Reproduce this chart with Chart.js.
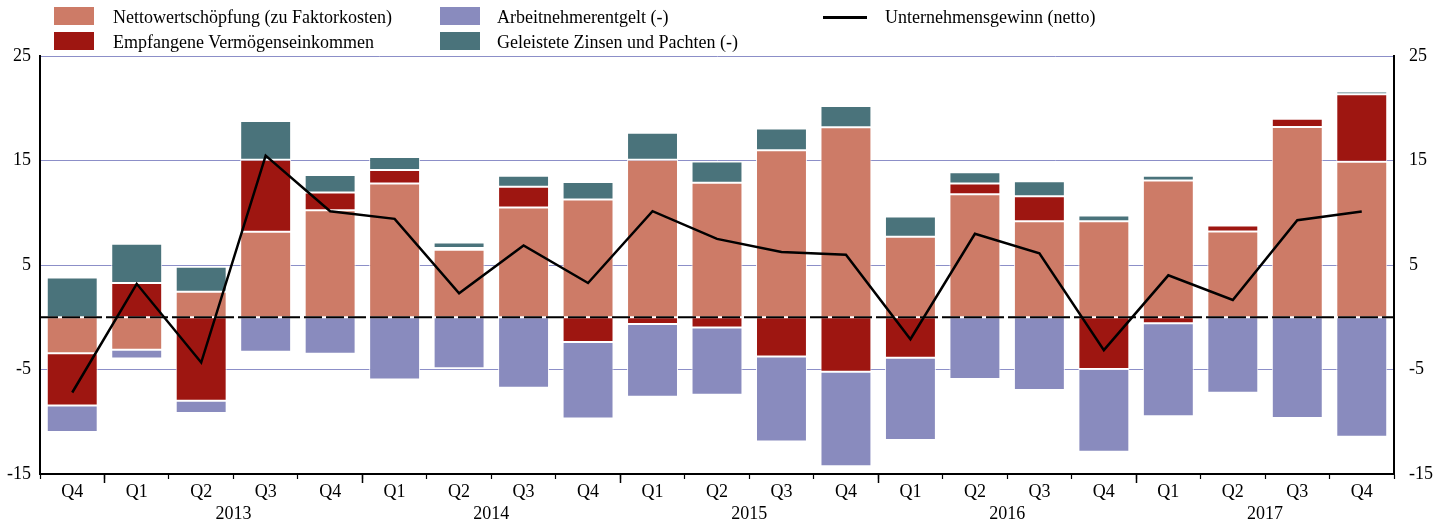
<!DOCTYPE html>
<html>
<head>
<meta charset="utf-8">
<script src="https://cdn.jsdelivr.net/npm/chart.js@4/dist/chart.umd.min.js"></script>
<style>
  html, body { margin: 0; padding: 0; background: #fff; }
  #wrap { position: relative; width: 1445px; height: 524px; font-family: "Liberation Serif", "Times New Roman", serif; }
  #wrap canvas { position: absolute; left: 0; top: 0; }
  .lg { position: absolute; font-size: 18px; color: #000; line-height: 20px; white-space: nowrap; }
  .sw { position: absolute; width: 40px; height: 18px; }
  .ln { position: absolute; width: 44px; height: 2.5px; background: #000; }
</style>
</head>
<body>
<div id="wrap">
  <canvas id="c" width="1445" height="524"></canvas>
  <div class="sw" style="left:54px;top:7px;background:#CD7B67"></div>
  <div class="lg" style="left:113px;top:7px">Nettowertschöpfung (zu Faktorkosten)</div>
  <div class="sw" style="left:54px;top:32px;background:#9E1611"></div>
  <div class="lg" style="left:113px;top:32px">Empfangene Vermögenseinkommen</div>
  <div class="sw" style="left:440px;top:7px;background:#898BBE"></div>
  <div class="lg" style="left:497px;top:7px">Arbeitnehmerentgelt (-)</div>
  <div class="sw" style="left:440px;top:32px;background:#4A737B"></div>
  <div class="lg" style="left:497px;top:32px">Geleistete Zinsen und Pachten (-)</div>
  <div class="ln" style="left:823px;top:16px"></div>
  <div class="lg" style="left:885px;top:7px">Unternehmensgewinn (netto)</div>
</div>
<script>
const quarters = ['Q4','Q1','Q2','Q3','Q4','Q1','Q2','Q3','Q4','Q1','Q2','Q3','Q4','Q1','Q2','Q3','Q4','Q1','Q2','Q3','Q4'];
const quarterYears = ['2012','2013','2013','2013','2013','2014','2014','2014','2014','2015','2015','2015','2015','2016','2016','2016','2016','2017','2017','2017','2017'];
const yearLabels = ['2013','2014','2015','2016','2017'];
const yTicks = [-15, -5, 5, 15, 25];

const nettowertschoepfung = [-3.44, -3.12, 2.45, 8.18, 10.25, 12.79, 6.46, 10.5, 11.26, 15.08, 12.86, 15.97, 18.17, 7.7, 11.77, 9.19, 9.19, 13.08, 8.21, 18.2, 14.89];
const vermoegenseinkommen = [-5.0, 3.28, -7.99, 6.9, 1.68, 1.31, 0.16, 2.0, -2.36, -0.64, -0.99, -3.75, -5.22, -3.88, 1.02, 2.39, -4.96, -0.57, 0.57, 0.8, 6.46];
const arbeitnehmerentgelt = [-2.55, -0.83, -1.18, -3.31, -3.5, -5.95, -4.87, -6.75, -7.34, -6.96, -6.42, -8.15, -9.04, -7.86, -5.92, -6.97, -7.9, -8.91, -7.22, -9.64, -11.43];
const zinsenPachten = [3.8, 3.75, 2.39, 3.7, 1.69, 1.24, 0.54, 1.03, 1.69, 2.58, 2.04, 2.1, 2.04, 1.94, 1.08, 1.43, 0.55, 0.45, null, -0.1, 0.25];
const unternehmensgewinn = [-7.2, 3.2, -4.33, 15.47, 10.15, 9.42, 2.29, 6.87, 3.28, 10.15, 7.5, 6.24, 5.98, -2.1, 7.99, 6.11, -3.15, 4.01, 1.65, 9.29, 10.12];

const FONT = { family: '"Liberation Serif", "Times New Roman", serif', size: 18 };

// year label centres from the quarter index positions
const yearCenters = yearLabels.map(y => {
  const idx = quarterYears.map((q, i) => q === y ? i : -1).filter(i => i >= 0);
  return { value: idx.reduce((a, b) => a + b, 0) / idx.length, label: y };
});

function barDs(label, data, color) {
  return {
    type: 'bar', label, data, backgroundColor: color,
    borderColor: 'rgba(255,255,255,0.9)', borderWidth: 1, borderSkipped: false,
    stack: 'comp', order: 1, categoryPercentage: 1, barPercentage: 0.79
  };
}

const zeroAndTicks = {
  id: 'zeroAndTicks',
  beforeDatasetDraw(chart, args) {
    if (args.index !== 4) return;
    const ctx = chart.ctx, ca = chart.chartArea, y = chart.scales.y.getPixelForValue(0);
    ctx.save();
    ctx.strokeStyle = '#000'; ctx.lineWidth = 2; ctx.setLineDash([18, 4]);
    ctx.beginPath(); ctx.moveTo(ca.left, y); ctx.lineTo(ca.right, y); ctx.stroke();
    ctx.restore();
  },
  afterDraw(chart) {
    const ctx = chart.ctx, xs = chart.scales.x, ca = chart.chartArea;
    ctx.save();
    ctx.strokeStyle = '#000'; ctx.lineWidth = 1.5;
    for (let i = 1; i < quarterYears.length; i++) {
      if (quarterYears[i] !== quarterYears[i - 1]) {
        const x = Math.round((xs.getPixelForValue(i - 1) + xs.getPixelForValue(i)) / 2) + 0.5;
        ctx.beginPath(); ctx.moveTo(x, ca.bottom + 1); ctx.lineTo(x, ca.bottom + 9); ctx.stroke();
      }
    }
    ctx.restore();
  }
};

new Chart(document.getElementById('c'), {
  data: {
    labels: quarters,
    datasets: [
      barDs('Nettowertschöpfung (zu Faktorkosten)', nettowertschoepfung, '#CD7B67'),
      barDs('Empfangene Vermögenseinkommen', vermoegenseinkommen, '#9E1611'),
      barDs('Arbeitnehmerentgelt (-)', arbeitnehmerentgelt, '#898BBE'),
      barDs('Geleistete Zinsen und Pachten (-)', zinsenPachten, '#4A737B'),
      {
        type: 'line', label: 'Unternehmensgewinn (netto)', data: unternehmensgewinn,
        borderColor: '#000', borderWidth: 2.5, pointRadius: 0, tension: 0,
        fill: false, stack: 'profit', order: 0, borderJoinStyle: 'miter'
      }
    ]
  },
  options: {
    responsive: false,
    animation: false,
    devicePixelRatio: 1,
    layout: { padding: { top: 56, left: 0, right: 0, bottom: 0 } },
    plugins: { legend: { display: false }, tooltip: { enabled: false } },
    scales: {
      x: {
        type: 'category', position: 'bottom', offset: true, stacked: true,
        grid: { offset: true, drawOnChartArea: false, tickLength: 5, tickColor: '#000', tickWidth: 1.2 },
        border: { color: '#000', width: 2 },
        ticks: { font: FONT, color: '#000', padding: 2, maxRotation: 0, autoSkip: false },
        afterFit(s) { s.height = 26; }
      },
      x2: {
        type: 'linear', position: 'bottom', min: -0.5, max: 20.5,
        grid: { display: false, drawTicks: false }, border: { display: false },
        afterBuildTicks(s) { s.ticks = yearCenters.map(t => ({ value: t.value })); },
        ticks: {
          font: FONT, color: '#000', padding: 3, autoSkip: false, maxRotation: 0,
          callback(v) { const t = yearCenters.find(c => Math.abs(c.value - v) < 1e-6); return t ? t.label : ''; }
        },
        afterFit(s) { s.height = 24; }
      },
      y: {
        position: 'left', stacked: true, min: -15, max: 25,
        afterBuildTicks(s) { s.ticks = yTicks.map(v => ({ value: v })); },
        grid: { color: '#8C8FC8', lineWidth: 1, drawTicks: false },
        border: { color: '#000', width: 2 },
        ticks: { font: FONT, color: '#000', padding: 9 },
        afterFit(s) { s.width = 40; }
      },
      y2: {
        position: 'right', min: -15, max: 25,
        afterBuildTicks(s) { s.ticks = yTicks.map(v => ({ value: v })); },
        grid: { drawOnChartArea: false, drawTicks: false },
        border: { color: '#000', width: 2 },
        ticks: { font: FONT, color: '#000', padding: 15 },
        afterFit(s) { s.width = 51; }
      }
    }
  },
  plugins: [zeroAndTicks]
});
</script>
</body>
</html>
